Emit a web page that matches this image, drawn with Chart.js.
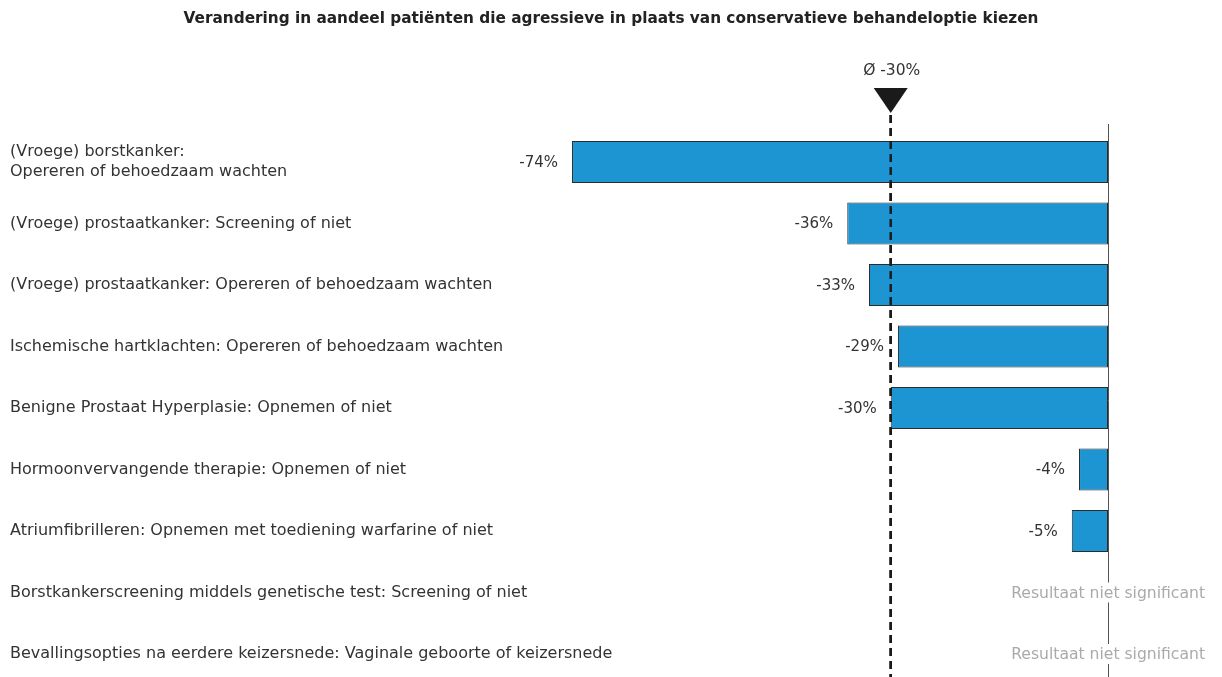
<!DOCTYPE html>
<html>
<head>
<meta charset="utf-8">
<script src="https://cdn.jsdelivr.net/npm/chart.js@4"></script>
<style>
  html, body { margin: 0; padding: 0; background: #fff; }
  #wrap { width: 1222px; height: 677px; }
</style>
</head>
<body>
<div id="wrap"><canvas id="chart"></canvas></div>
<script>
// data
const title = 'Verandering in aandeel patiënten die agressieve in plaats van conservatieve behandeloptie kiezen';
const categories = [
  ['(Vroege) borstkanker:', 'Opereren of behoedzaam wachten'],
  '(Vroege) prostaatkanker: Screening of niet',
  '(Vroege) prostaatkanker: Opereren of behoedzaam wachten',
  'Ischemische hartklachten: Opereren of behoedzaam wachten',
  'Benigne Prostaat Hyperplasie: Opnemen of niet',
  'Hormoonvervangende therapie: Opnemen of niet',
  'Atriumfibrilleren: Opnemen met toediening warfarine of niet',
  'Borstkankerscreening middels genetische test: Screening of niet',
  'Bevallingsopties na eerdere keizersnede: Vaginale geboorte of keizersnede'
];
const changes = [-74, -36, -33, -29, -30, -4, -5, null, null];
const average = -30;
const averageLabel = 'Ø -30%';
const notSignificant = 'Resultaat niet significant';

const FONT = '"DejaVu Sans", "Liberation Sans", Arial, sans-serif';
const X_MIN = -151.6; // leaves room for the category labels on the left

function dashedAverage(chart) {
  const ctx = chart.ctx, area = chart.chartArea;
  const ax = chart.scales.x.getPixelForValue(average);
  ctx.save();
  ctx.strokeStyle = '#1a1a1a';
  ctx.lineWidth = 2.5;
  ctx.setLineDash([8, 5]);
  ctx.beginPath();
  ctx.moveTo(ax, area.top - 47);
  ctx.lineTo(ax, chart.height);
  ctx.stroke();
  ctx.restore();
}

// title, value labels, zero line, average marker
const overlay = {
  id: 'overlay',
  beforeDatasetsDraw(chart) {
    const ctx = chart.ctx, area = chart.chartArea;
    const zx = chart.scales.x.getPixelForValue(0);
    ctx.save();
    ctx.fillStyle = '#222';
    ctx.font = 'bold 15.3px ' + FONT;
    ctx.textAlign = 'center';
    ctx.textBaseline = 'middle';
    ctx.fillText(title, chart.width / 2, 19);

    ctx.strokeStyle = '#555';
    ctx.lineWidth = 1;
    ctx.beginPath();
    ctx.moveTo(zx + 0.5, area.top - 38);
    ctx.lineTo(zx + 0.5, chart.height);
    ctx.stroke();
    ctx.restore();
    dashedAverage(chart);
  },
  afterDatasetsDraw(chart) {
    const ctx = chart.ctx, area = chart.chartArea;
    const zx = chart.scales.x.getPixelForValue(0);
    const ax = chart.scales.x.getPixelForValue(average);
    const meta = chart.getDatasetMeta(0);
    dashedAverage(chart);

    ctx.save();
    ctx.textBaseline = 'middle';
    meta.data.forEach((bar, i) => {
      const v = changes[i];
      const y = chart.scales.y.getPixelForValue(i);
      if (v === null) {
        ctx.font = '15.6px ' + FONT;
        const w = ctx.measureText(notSignificant).width;
        ctx.fillStyle = '#fff';
        ctx.fillRect(zx + 97 - w - 2, y - 10, w + 4, 20);
        ctx.fillStyle = '#aaa';
        ctx.textAlign = 'right';
        ctx.fillText(notSignificant, zx + 97, y + 1);
      } else {
        ctx.font = '15px ' + FONT;
        ctx.fillStyle = '#333';
        ctx.textAlign = 'right';
        ctx.fillText(v + '%', bar.x - 14, y + 1);
      }
    });

    // average marker
    const top = area.top - 74;
    ctx.fillStyle = '#1a1a1a';
    ctx.beginPath();
    ctx.moveTo(ax - 17, top);
    ctx.lineTo(ax + 17, top);
    ctx.lineTo(ax, top + 25);
    ctx.closePath();
    ctx.fill();
    ctx.fillStyle = '#333';
    ctx.textAlign = 'center';
    ctx.font = '15.5px ' + FONT;
    ctx.fillText(averageLabel, ax + 1, top - 17);
    ctx.restore();
  }
};

new Chart(document.getElementById('chart'), {
  type: 'bar',
  data: {
    labels: categories,
    datasets: [{
      data: changes,
      backgroundColor: '#1e95d3',
      borderColor: '#2b2b2b',
      borderWidth: 1,
      borderSkipped: false,
      barPercentage: 0.68,
      categoryPercentage: 1,
      clip: false
    }]
  },
  options: {
    indexAxis: 'y',
    responsive: true,
    maintainAspectRatio: false,
    animation: false,
    layout: { padding: { left: 10, right: 114, bottom: 23, top: 162 } },
    plugins: {
      legend: { display: false },
      tooltip: { enabled: false },
      title: { display: false }
    },
    scales: {
      x: {
        display: false,
        min: X_MIN,
        max: 0
      },
      y: {
        offset: false,
        grid: { display: false },
        border: { display: false },
        ticks: {
          mirror: true,
          crossAlign: 'near',
          color: '#333',
          padding: 0,
          font: { family: FONT, size: 16, lineHeight: 1.25 }
        },
        afterFit(scale) { scale.width = 0; }
      }
    }
  },
  plugins: [overlay]
});
</script>
</body>
</html>
